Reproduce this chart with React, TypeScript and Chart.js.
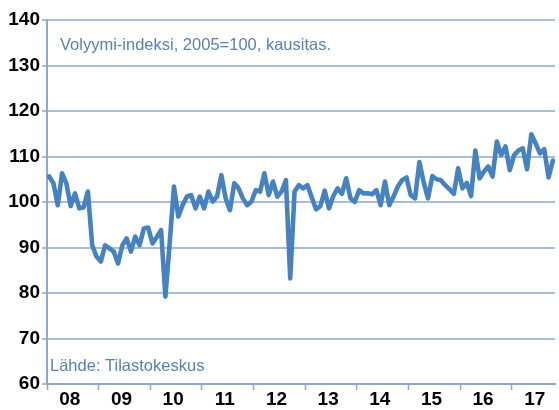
import React, { useEffect, useRef } from "react";
import { Chart, registerables } from "chart.js";

Chart.register(...registerables);

// Year labels for the x axis (monthly data Jan 2008 – Oct 2017)
const yearLabels = ["08", "09", "10", "11", "12", "13", "14", "15", "16", "17"];

// Y axis ticks
const yTicks = [60, 70, 80, 90, 100, 110, 120, 130, 140];

// Monthly volume index values
const values2008 = [105.6, 104.1, 99.3, 106.3, 104.1, 99.1, 101.9, 98.6, 98.8, 102.3, 90.5, 88.0];
const values2009 = [86.9, 90.5, 89.8, 89.1, 86.5, 90.5, 92.0, 89.1, 92.4, 90.5, 94.2, 94.4];
const values2010 = [90.9, 92.3, 93.8, 79.2, 91.0, 103.4, 96.8, 99.3, 101.2, 101.5, 98.6, 101.2];
const values2011 = [98.6, 102.3, 100.1, 101.2, 105.9, 100.8, 98.2, 104.1, 103.0, 100.8, 99.3, 100.1];
const values2012 = [102.6, 102.3, 106.3, 101.5, 104.5, 101.2, 102.3, 104.8, 83.2, 102.3, 103.7, 103.0];
const values2013 = [103.7, 101.0, 98.4, 99.1, 102.5, 98.6, 101.3, 103.0, 101.8, 105.2, 100.8, 100.0];
const values2014 = [102.6, 101.9, 101.9, 101.7, 102.6, 99.3, 104.5, 99.3, 101.2, 103.4, 104.8, 105.4];
const values2015 = [101.5, 100.8, 108.8, 104.3, 100.8, 105.7, 105.0, 104.8, 103.7, 102.8, 101.8, 107.4];
const values2016 = [103.0, 104.2, 101.3, 111.3, 105.2, 106.7, 107.8, 105.6, 113.3, 110.3, 112.2, 107.0];
const values2017 = [110.3, 111.3, 111.8, 107.2, 114.9, 112.9, 110.7, 111.6, 105.4, 109.1];

const values = [
  ...values2008, ...values2009, ...values2010, ...values2011, ...values2012,
  ...values2013, ...values2014, ...values2015, ...values2016, ...values2017,
];

const subtitleText = "Volyymi-indeksi, 2005=100, kausitas.";
const sourceText = "Lähde: Tilastokeskus";

export default function App() {
  const ref = useRef<HTMLCanvasElement | null>(null);

  useEffect(() => {
    document.body.style.margin = "0";
    const canvas = ref.current;
    if (!canvas) return;

    const notesPlugin = {
      id: "notes",
      afterDraw(chart: any) {
        const c = chart.ctx;
        const a = chart.chartArea;
        c.save();
        c.fillStyle = "#5b80b2";
        c.font = "16.5px 'Liberation Sans', Arial, sans-serif";
        c.textBaseline = "middle";
        c.textAlign = "left";
        c.fillText(subtitleText, a.left + 13, a.top + 25);
        c.fillText(sourceText, a.left + 3, a.bottom - 18);
        c.restore();
      },
    };

    const maxX = values.length - 0.5;
    const isBoundary = (v: number) => Math.abs(((v + 0.5) / 6) % 2) < 1e-6;

    const chart = new Chart(canvas, {
      type: "line",
      data: {
        datasets: [
          {
            data: values.map((v, i) => ({ x: i, y: v })),
            borderColor: "#4682c0",
            borderWidth: 4.6,
            pointRadius: 0,
            tension: 0,
            fill: false,
            borderJoinStyle: "round",
            borderCapStyle: "round",
          },
        ],
      },
      options: {
        animation: false,
        responsive: false,
        maintainAspectRatio: false,
        layout: { padding: { top: 20, right: 4, left: 0, bottom: 0 } },
        plugins: {
          legend: { display: false },
          tooltip: { enabled: false },
        },
        scales: {
          x: {
            type: "linear",
            min: -0.5,
            max: maxX,
            afterBuildTicks: (scale: any) => {
              const t: any[] = [];
              for (let k = 0; k <= yearLabels.length * 2; k++) {
                const v = -0.5 + 6 * k;
                if (v <= maxX) t.push({ value: v });
              }
              scale.ticks = t;
            },
            afterFit: (scale: any) => {
              scale.height = 26;
            },
            grid: {
              drawOnChartArea: false,
              drawTicks: true,
              tickLength: 6,
              tickWidth: 1.5,
              tickColor: (ctx: any) =>
                ctx.tick && isBoundary(ctx.tick.value) ? "#8ea8c9" : "rgba(0,0,0,0)",
            },
            border: { display: true, color: "#8ea8c9", width: 2 },
            ticks: {
              autoSkip: false,
              maxRotation: 0,
              minRotation: 0,
              padding: -2,
              labelOffset: -3,
              color: "#000",
              font: { family: "'Liberation Sans', Arial, sans-serif", size: 19, weight: "bold" },
              callback: (value: any) => {
                const k = (Number(value) + 0.5) / 6;
                if (Math.abs(k % 2 - 1) < 1e-6) return yearLabels[(k - 1) / 2] ?? "";
                return "";
              },
            },
          },
          y: {
            min: 60,
            max: 140,
            afterBuildTicks: (scale: any) => {
              scale.ticks = yTicks.map((v) => ({ value: v }));
            },
            afterFit: (scale: any) => {
              scale.width = 47;
            },
            grid: {
              color: "#a9bdd6",
              lineWidth: 2,
              tickLength: 5,
              tickColor: "#8ea8c9",
              tickWidth: 1.5,
            },
            border: { display: true, color: "#8ea8c9", width: 2 },
            ticks: {
              padding: 2,
              color: "#000",
              font: { family: "'Liberation Sans', Arial, sans-serif", size: 19, weight: "bold" },
            },
          },
        },
      },
      plugins: [notesPlugin],
    } as any);

    return () => chart.destroy();
  }, []);

  return (
    <div style={{ width: 559, height: 410 }}>
      <canvas ref={ref} width={559} height={410} style={{ display: "block", width: 559, height: 410 }} />
    </div>
  );
}
